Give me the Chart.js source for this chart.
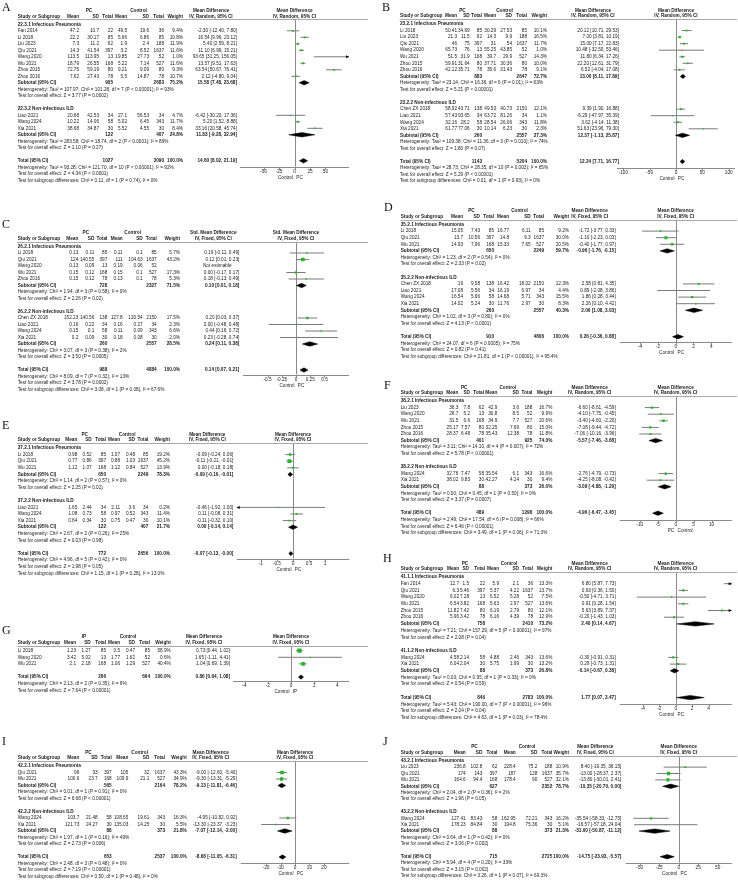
<!DOCTYPE html>
<html><head><meta charset="utf-8">
<script src="https://cdn.jsdelivr.net/npm/chart.js@4.4.1/dist/chart.umd.min.js"></script>
<style>
html,body{margin:0;padding:0;background:#fff;}
#wrap{position:relative;width:738px;height:880px;overflow:hidden;background:#fff;}
#wrap canvas{position:absolute;left:0;top:0;}
</style></head><body><div id="wrap"></div>
<script>
// ===== Panel A =====
const A_study = ["Fan 2014","Li 2018","Liu 2023","Qiu 2021","Wang 2020","Wu 2021","Zhou 2015","Zhou 2016","Liao 2021","Wang 2024","Xia 2021"];
const A_group = [0,0,0,0,0,0,0,0,1,1,1];
const A_pc = [[47.2,10.7,22],[22.2,30.17,85],[7.3,11.2,62],[14.3,41.54,397],[113.5,113.95,13],[18.79,26.55,168],[72.75,59.19,80],[7.62,27.43,78],[20.68,42.53,34],[10.22,14.06,58],[38.68,34.87,30]];
const A_ctl = [[49.5,19.6,36],[5.66,6.86,85],[1.9,2.4,188],[3.2,8.52,1637],[19.85,27.73,52],[5.22,7.14,527],[9.21,9.09,80],[5.5,14.87,78],[27.1,56.53,34],[5.02,6.45,343],[5.52,4.55,30]];
const A_weight = [9.4,10.8,11.9,11.6,1.0,11.6,9.3,10.7,4.7,11.7,8.4];
const A_ci = [[-2.30,-12.40,7.80],[16.54,9.96,23.12],[5.40,2.59,8.21],[11.10,6.99,15.21],[93.65,31.25,156.05],[13.57,9.51,17.63],[63.54,50.67,76.41],[2.12,-4.80,9.04],[-6.42,-30.20,17.36],[5.20,1.52,8.88],[33.16,20.58,45.74]];
const A_subName = ["22.3.1 Infectious Pneumonia","22.3.2 Non-infectious ILD"];
const A_sub = [[905,2683,75.2,15.58,7.48,23.68],[122,407,24.8,11.83,-9.28,32.94]];
const A_subText = [["Heterogeneity: Tau² = 107.97; Chi² = 101.28, df = 7 (P < 0.00001); I² = 93%","Test for overall effect: Z = 3.77 (P = 0.0002)"],["Heterogeneity: Tau² = 283.58; Chi² = 18.74, df = 2 (P < 0.0001); I² = 89%","Test for overall effect: Z = 1.10 (P = 0.27)"]];
const A_total = [1027,3090,100.0,14.60,8.02,21.19];
const A_totalText = ["Heterogeneity: Tau² = 93.28; Chi² = 121.70, df = 10 (P < 0.00001); I² = 92%","Test for overall effect: Z = 4.34 (P < 0.0001)","Test for subgroup differences: Chi² = 0.11, df = 1 (P = 0.74), I² = 0%"];
const A_ticks = [-50,-25,0,25,50];

// ===== Panel B =====
const B_study = ["Li 2018","Liu 2023","Qiu 2021","Wang 2020","Wu 2021","Zhou 2015","Zhou 2016","Chen ZX 2018","Liao 2021","Wang 2024","Xia 2021"];
const B_group = [0,0,0,0,0,0,0,1,1,1,1];
const B_pc = [[50.41,34.69,85],[21.3,11.5,62],[46,75,397],[65.73,76,13],[51.5,31.9,168],[59.91,31.64,80],[42.12,35.71,78],[58.92,43.71,138],[57.43,93.65,34],[32.16,28.2,58],[61.77,77.06,30]];
const B_ctl = [[30.29,27.53,85],[14.3,9.9,188],[31,54,1637],[55.25,43.85,52],[39.7,29.9,527],[37.71,30.36,80],[35.6,31.43,78],[49.53,40.73,2150],[63.72,81.26,34],[28.54,26.06,343],[10.14,6.23,30]];
const B_weight = [10.1,16.5,11.7,1.0,14.3,10.0,9.1,12.1,1.1,11.8,2.3];
const B_ci = [[20.12,10.71,29.53],[7.00,3.81,10.19],[15.00,7.17,22.83],[10.48,-32.50,53.46],[11.80,6.34,17.26],[22.20,12.61,31.79],[6.52,-4.04,17.08],[9.39,1.90,16.88],[-6.29,-47.97,35.39],[3.62,-4.14,11.38],[51.63,23.96,79.30]];
const B_subName = ["23.2.1 Infectious Pneumonia","23.2.2 Non-infectious ILD"];
const B_sub = [[883,2647,72.7,13.00,8.11,17.89],[260,2557,27.3,12.37,-1.13,25.87]];
const B_subText = [["Heterogeneity: Tau² = 23.14; Chi² = 16.36, df = 6 (P = 0.01); I² = 63%","Test for overall effect: Z = 5.21 (P < 0.00001)"],["Heterogeneity: Tau² = 109.38; Chi² = 11.36, df = 3 (P = 0.010); I² = 74%","Test for overall effect: Z = 1.80 (P = 0.07)"]];
const B_total = [1143,5204,100.0,12.24,7.71,16.77];
const B_totalText = ["Heterogeneity: Tau² = 28.73; Chi² = 28.35, df = 10 (P = 0.002); I² = 65%","Test for overall effect: Z = 5.29 (P < 0.00001)","Test for subgroup differences: Chi² = 0.01, df = 1 (P = 0.93), I² = 0%"];
const B_ticks = [-100,-50,0,50,100];

// ===== Panel C =====
const C_study = ["Li 2018","Qiu 2021","Wang 2020","Wu 2021","Zhou 2016","Chen ZX 2018","Liao 2021","Wang 2024","Xia 2021"];
const C_group = [0,0,0,0,0,1,1,1,1];
const C_pc = [[0.13,0.11,85],[124,140.55,397],[0.13,0.09,13],[0.15,0.12,168],[0.15,0.12,78],[152.23,140.56,138],[0.16,0.22,34],[0.15,0.1,58],[0.2,0.09,30]];
const C_ctl = [[0.11,0.1,85],[111,104.63,1637],[0.19,0.06,52],[0.15,0.1,527],[0.13,0.1,78],[127.8,120.54,2150],[0.16,0.27,34],[0.11,0.09,343],[0.18,0.08,30]];
const C_weight = [5.7,43.2,null,17.3,5.3,17.5,2.3,6.6,2.0];
const C_ci = [[0.19,-0.11,0.49],[0.12,0.01,0.23],null,[0.00,-0.17,0.17],[0.18,-0.13,0.49],[0.20,0.03,0.37],[0.00,-0.48,0.48],[0.44,0.16,0.72],[0.23,-0.28,0.74]];
const C_subName = ["26.2.1 Infectious Pneumonia","26.2.2 Non-infectious ILD"];
const C_sub = [[728,2327,71.5,0.10,0.01,0.18],[260,2557,28.5,0.24,0.11,0.38]];
const C_subText = [["Heterogeneity: Chi² = 1.94, df = 3 (P = 0.58); I² = 0%","Test for overall effect: Z = 2.26 (P = 0.02)"],["Heterogeneity: Chi² = 3.07, df = 3 (P = 0.38); I² = 2%","Test for overall effect: Z = 3.50 (P = 0.0005)"]];
const C_total = [988,4884,100.0,0.14,0.07,0.21];
const C_totalText = ["Heterogeneity: Chi² = 8.09, df = 7 (P = 0.32); I² = 13%","Test for overall effect: Z = 3.78 (P = 0.0002)","Test for subgroup differences: Chi² = 3.08, df = 1 (P = 0.08), I² = 67.6%"];
const C_ticks = [-0.5,-0.25,0,0.25,0.5];

// ===== Panel D =====
const D_study = ["Li 2018","Qiu 2021","Wu 2021","Chen ZX 2018","Liao 2021","Wang 2024","Xia 2021"];
const D_group = [0,0,0,1,1,1,1];
const D_pc = [[15.05,7.43,85],[13.7,10.56,397],[14.93,7.96,168],[19,9.58,138],[17.08,5.56,34],[16.54,5.66,58],[14.02,5.24,30]];
const D_ctl = [[16.77,6.11,85],[14.8,9.3,1637],[15.33,7.65,527],[16.42,18.02,2150],[16.19,6.97,34],[14.68,5.71,343],[11.76,2.97,30]];
const D_weight = [9.2,30.0,20.5,12.3,4.4,15.5,8.3];
const D_ci = [[-1.72,-3.77,0.33],[-1.10,-2.23,0.03],[-0.40,-1.77,0.97],[2.58,0.81,4.35],[0.89,-2.08,3.86],[1.86,0.28,3.44],[2.26,0.10,4.42]];
const D_subName = ["35.2.1 Infectious Pneumonia","35.2.2 Non-infectious ILD"];
const D_sub = [[650,2249,59.7,-0.96,-1.76,-0.15],[260,2557,40.3,2.06,1.08,3.03]];
const D_subText = [["Heterogeneity: Chi² = 1.23, df = 2 (P = 0.54); I² = 0%","Test for overall effect: Z = 2.33 (P = 0.02)"],["Heterogeneity: Chi² = 1.02, df = 3 (P = 0.80); I² = 0%","Test for overall effect: Z = 4.13 (P < 0.0001)"]];
const D_total = [910,4806,100.0,0.26,-0.36,0.88];
const D_totalText = ["Heterogeneity: Chi² = 24.07, df = 6 (P = 0.0005); I² = 75%","Test for overall effect: Z = 0.82 (P = 0.41)","Test for subgroup differences: Chi² = 21.81, df = 1 (P < 0.00001), I² = 95.4%"];
const D_ticks = [-4,-2,0,2,4];

// ===== Panel E =====
const E_study = ["Li 2018","Qiu 2021","Wu 2021","Liao 2021","Wang 2024","Xia 2021"];
const E_group = [0,0,0,1,1,1];
const E_pc = [[0.98,0.52,85],[0.77,0.86,397],[1.12,1.07,168],[1.65,2.44,34],[1.08,0.73,58],[0.64,0.34,30]];
const E_ctl = [[1.07,0.48,85],[0.88,1.03,1637],[1.12,0.84,527],[2.11,3.6,34],[0.97,0.52,343],[0.75,0.47,30]];
const E_weight = [19.2,45.2,13.9,0.2,11.4,10.1];
const E_ci = [[-0.09,-0.24,0.06],[-0.11,-0.21,-0.01],[0.00,-0.18,0.18],[-0.46,-1.92,1.00],[0.11,-0.08,0.31],[-0.11,-0.32,0.10]];
const E_subName = ["37.2.1 Infectious Pneumonia","37.2.2 Non-infectious ILD"];
const E_sub = [[650,2249,78.3,-0.09,-0.16,-0.01],[122,407,21.7,0.00,-0.14,0.14]];
const E_subText = [["Heterogeneity: Chi² = 1.14, df = 2 (P = 0.57); I² = 0%","Test for overall effect: Z = 2.25 (P = 0.02)"],["Heterogeneity: Chi² = 2.67, df = 2 (P = 0.26); I² = 25%","Test for overall effect: Z = 0.03 (P = 0.98)"]];
const E_total = [772,2656,100.0,-0.07,-0.13,-0];
const E_totalText = ["Heterogeneity: Chi² = 4.96, df = 5 (P = 0.42); I² = 0%","Test for overall effect: Z = 1.98 (P = 0.05)","Test for subgroup differences: Chi² = 1.15, df = 1 (P = 0.28), I² = 13.0%"];
const E_ticks = [-1,-0.5,0,0.5,1];

// ===== Panel F =====
const F_study = ["Liu 2023","Wang 2020","Wu 2021","Zhou 2015","Zhou 2016","Wang 2024","Xia 2021"];
const F_group = [0,0,0,0,0,1,1];
const F_pc = [[36.3,7.8,62],[26.7,5.2,13],[31.5,6.6,168],[25.17,7.57,80],[28.37,6.48,78],[32.76,7.47,58],[38.02,9.83,30]];
const F_ctl = [[42.9,3.6,188],[30.8,8.5,52],[34.9,7.7,527],[32.25,7.69,80],[35.43,12.38,78],[35.54,6.1,343],[42.27,4.24,30]];
const F_weight = [16.7,9.9,20.6,15.0,11.8,16.6,9.4];
const F_ci = [[-6.60,-8.61,-4.59],[-4.10,-7.75,-0.45],[-3.40,-4.60,-2.20],[-7.08,-9.44,-4.72],[-7.06,-10.16,-3.96],[-2.76,-4.79,-0.73],[-4.25,-8.08,-0.42]];
const F_subName = ["38.2.1 Infectious Pneumonia","38.2.2 Non-infectious ILD"];
const F_sub = [[401,925,74.0,-5.57,-7.46,-3.68],[88,373,26.0,-3.09,-4.88,-1.29]];
const F_subText = [["Heterogeneity: Tau² = 3.11; Chi² = 14.10, df = 4 (P = 0.007); I² = 72%","Test for overall effect: Z = 5.78 (P < 0.00001)"],["Heterogeneity: Tau² = 0.00; Chi² = 0.45, df = 1 (P = 0.50); I² = 0%","Test for overall effect: Z = 3.37 (P = 0.0007)"]];
const F_total = [489,1298,100.0,-4.96,-6.47,-3.45];
const F_totalText = ["Heterogeneity: Tau² = 2.49; Chi² = 17.54, df = 6 (P = 0.008); I² = 66%","Test for overall effect: Z = 6.46 (P < 0.00001)","Test for subgroup differences: Chi² = 3.49, df = 1 (P = 0.06), I² = 71.3%"];
const F_ticks = [-10,-5,0,5,10];

// ===== Panel G =====
const G_study = ["Li 2018","Wang 2020","Wu 2021"];
const G_pc = [[1.23,1.27,85],[3.42,5.02,13],[2.1,2.18,168]];
const G_ctl = [[0.5,0.47,85],[1.77,1.62,52],[1.06,1.29,527]];
const G_weight = [58.9,0.6,40.4];
const G_ci = [[0.73,0.44,1.02],[1.65,-1.11,4.41],[1.04,0.69,1.39]];
const G_total = [266,664,100.0,0.86,0.64,1.08];
const G_totalText = ["Heterogeneity: Chi² = 2.13, df = 2 (P = 0.35); I² = 6%","Test for overall effect: Z = 7.64 (P < 0.00001)"];
const G_ticks = [-4,-2,0,2,4];

// ===== Panel H =====
const H_study = ["Fan 2014","Qiu 2021","Wang 2020","Wu 2021","Zhou 2015","Zhou 2016","Wang 2024","Xia 2021"];
const H_group = [0,0,0,0,0,0,1,1];
const H_pc = [[12.7,1.5,22],[6.3,5.46,397],[6.02,7.28,13],[6.54,3.82,168],[11.82,7.42,80],[5.96,3.42,78],[4.58,2.14,58],[6.04,2.04,30]];
const H_ctl = [[5.9,2.1,36],[5.37,4.22,1637],[6.52,5.28,52],[5.63,2.97,527],[6.19,2.79,80],[6.16,4.39,78],[4.88,2.46,343],[5.75,1.99,30]];
const H_weight = [13.3,13.7,7.5,13.6,12.1,12.9,13.6,13.2];
const H_ci = [[6.80,5.87,7.73],[0.93,0.36,1.50],[-0.50,-4.71,3.71],[0.91,0.28,1.54],[5.63,3.89,7.37],[-0.20,-1.43,1.03],[-0.30,-0.91,0.31],[0.29,-0.73,1.31]];
const H_subName = ["41.1.1 Infectious Pneumonia","41.1.2 Non-infectious ILD"];
const H_sub = [[758,2410,73.2,2.40,0.14,4.67],[88,373,26.8,-0.14,-0.67,0.38]];
const H_subText = [["Heterogeneity: Tau² = 7.21; Chi² = 157.29, df = 5 (P < 0.00001); I² = 97%","Test for overall effect: Z = 2.08 (P = 0.04)"],["Heterogeneity: Tau² = 0.03; Chi² = 0.95, df = 1 (P = 0.33); I² = 0%","Test for overall effect: Z = 0.54 (P = 0.59)"]];
const H_total = [846,2783,100.0,1.77,0.07,3.47];
const H_totalText = ["Heterogeneity: Tau² = 5.43; Chi² = 190.00, df = 7 (P < 0.00001); I² = 96%","Test for overall effect: Z = 2.04 (P = 0.04)","Test for subgroup differences: Chi² = 4.63, df = 1 (P = 0.03), I² = 78.4%"];
const H_ticks = [-4,-2,0,2,4];

// ===== Panel I =====
const I_study = ["Qiu 2021","Wu 2021","Wang 2024","Xia 2021"];
const I_group = [0,0,1,1];
const I_pc = [[96,33,397],[100.6,23.7,168],[103.7,21.48,58],[121.73,24.27,30]];
const I_ctl = [[105,32,1637],[109.9,21.1,527],[108.65,19.61,343],[135.03,14.25,30]];
const I_weight = [43.3,34.9,16.3,5.5];
const I_ci = [[-9.00,-12.60,-5.40],[-9.30,-13.31,-5.29],[-4.95,-10.82,0.92],[-13.30,-23.37,-3.23]];
const I_subName = ["42.2.1 Infectious Pneumonia","42.2.2 Non-infectious ILD"];
const I_sub = [[565,2164,78.2,-9.13,-11.81,-6.46],[88,373,21.8,-7.07,-12.14,-2.00]];
const I_subText = [["Heterogeneity: Chi² = 0.01, df = 1 (P = 0.91); I² = 0%","Test for overall effect: Z = 6.68 (P < 0.00001)"],["Heterogeneity: Chi² = 1.97, df = 1 (P = 0.16); I² = 49%","Test for overall effect: Z = 2.73 (P = 0.006)"]];
const I_total = [653,2537,100.0,-8.68,-11.05,-6.31];
const I_totalText = ["Heterogeneity: Chi² = 2.48, df = 3 (P = 0.48); I² = 0%","Test for overall effect: Z = 7.19 (P < 0.00001)","Test for subgroup differences: Chi² = 0.50, df = 1 (P = 0.48), I² = 0%"];
const I_ticks = [-20,-10,0,10,20];

// ===== Panel J =====
const J_study = ["Liu 2023","Qiu 2021","Wu 2021","Wang 2024","Xia 2021"];
const J_group = [0,0,0,1,1];
const J_pc = [[236.8,102.8,62],[174,143,397],[164.6,94.4,168],[127.41,83.43,58],[178.23,84.84,30]];
const J_ctl = [[228.4,75.2,188],[187,128,1637],[178.4,90,527],[162.95,72.21,343],[194.8,75.36,30]];
const J_weight = [10.9,35.7,32.1,16.2,5.1];
const J_ci = [[8.40,-19.35,36.15],[-13.00,-28.37,2.37],[-13.80,-30.01,2.41],[-35.54,-58.33,-12.75],[-16.57,-57.18,24.04]];
const J_subName = ["43.2.1 Infectious Pneumonia","43.2.2 Non-infectious ILD"];
const J_sub = [[627,2352,78.7,-10.35,-20.70,0.00],[88,373,21.3,-31.00,-50.87,-11.12]];
const J_subText = [["Heterogeneity: Chi² = 2.04, df = 2 (P = 0.36); I² = 2%","Test for overall effect: Z = 1.96 (P = 0.05)"],["Heterogeneity: Chi² = 0.64, df = 1 (P = 0.42); I² = 0%","Test for overall effect: Z = 3.06 (P = 0.002)"]];
const J_total = [715,2725,100.0,-14.75,-23.93,-5.57];
const J_totalText = ["Heterogeneity: Chi² = 5.94, df = 4 (P = 0.20); I² = 33%","Test for overall effect: Z = 3.15 (P = 0.002)","Test for subgroup differences: Chi² = 3.26, df = 1 (P = 0.07), I² = 69.3%"];
const J_ticks = [-50,-25,0,25,50];

// ===== Panel assembly (data references + layout) =====
const RND = "IV, Random, 95% CI", FIX = "IV, Fixed, 95% CI";
const PANELS = [
 {id:"A", study:A_study, group:A_group, pc:A_pc, ctl:A_ctl, weight:A_weight, ci:A_ci, subName:A_subName, sub:A_sub, subText:A_subText, total:A_total, totalText:A_totalText, ticks:A_ticks,
  exp:"PC", effect:"Mean Difference", method:RND, favL:"Control", favR:"PC",
  ox:0, letterX:2, letterY:8, r0:24.3, s:6.5, gap:5.8, nameX:17.7, cols:[79,99,113,127,149,164,183], ciX:237, plotL:240, plotR:349, R:88},
 {id:"B", study:B_study, group:B_group, pc:B_pc, ctl:B_ctl, weight:B_weight, ci:B_ci, subName:B_subName, sub:B_sub, subText:B_subText, total:B_total, totalText:B_totalText, ticks:B_ticks,
  exp:"PC", effect:"Mean Difference", method:RND, favL:"Control", favR:"PC",
  ox:369, letterX:13, letterY:8, r0:24, s:6.55, gap:6.5, nameX:31, cols:[88,100.7,113,127,143,158,178], ciX:250, plotL:248, plotR:366, R:112},
 {id:"C", study:C_study, group:C_group, pc:C_pc, ctl:C_ctl, weight:C_weight, ci:C_ci, subName:C_subName, sub:C_sub, subText:C_subText, total:C_total, totalText:C_totalText, ticks:C_ticks,
  exp:"PC", effect:"Std. Mean Difference", method:FIX, favL:"Control", favR:"PC",
  ox:0, letterX:2, letterY:225, r0:246.5, s:6.5, gap:4.5, nameX:17.7, cols:[78.3,94.3,107.3,122.7,142.7,156.7,180], ciX:239.3, plotL:243, plotR:349, R:0.93},
 {id:"D", study:D_study, group:D_group, pc:D_pc, ctl:D_ctl, weight:D_weight, ci:D_ci, subName:D_subName, sub:D_sub, subText:D_subText, total:D_total, totalText:D_totalText, ticks:D_ticks,
  exp:"PC", effect:"Mean Difference", method:FIX, favL:"Control", favR:"PC",
  ox:369, letterX:15, letterY:207.5, r0:224.5, s:6.6, gap:5.5, nameX:31.7, cols:[94,111,125,140,161.7,175,200], ciX:246.7, plotL:250.7, plotR:362.7, R:6.3},
 {id:"E", study:E_study, group:E_group, pc:E_pc, ctl:E_ctl, weight:E_weight, ci:E_ci, subName:E_subName, sub:E_sub, subText:E_subText, total:E_total, totalText:E_totalText, ticks:E_ticks,
  exp:"PC", effect:"Mean Difference", method:FIX, favL:"Control", favR:"PC",
  ox:0, letterX:2, letterY:426, r0:448, s:6.6, gap:5, nameX:17.7, cols:[77.3,91.7,106,120,135,148.3,170], ciX:233.3, plotL:236.7, plotR:349.3, R:1.75},
 {id:"F", study:F_study, group:F_group, pc:F_pc, ctl:F_ctl, weight:F_weight, ci:F_ci, subName:F_subName, sub:F_sub, subText:F_subText, total:F_total, totalText:F_totalText, ticks:F_ticks,
  exp:"PC", effect:"Mean Difference", method:RND, favL:"PC", favR:"Control",
  ox:369, letterX:15, letterY:386, r0:401, s:6.6, gap:7, nameX:31.7, cols:[89.3,101,115,128.3,150,163.3,183.3], ciX:246.7, plotL:250.7, plotR:362.7, R:15.6},
 {id:"G", study:G_study, group:null, pc:G_pc, ctl:G_ctl, weight:G_weight, ci:G_ci, subName:null, sub:null, subText:null, total:G_total, totalText:G_totalText, ticks:G_ticks,
  exp:"IP", effect:"Mean Difference", method:FIX, favL:"Control", favR:"IP",
  ox:0, letterX:2, letterY:631, r0:650.7, s:6.6, gap:4, nameX:17.7, cols:[76,90.7,106,120,135,150,170.7], ciX:230, plotL:233, plotR:349, R:5.0},
 {id:"H", study:H_study, group:H_group, pc:H_pc, ctl:H_ctl, weight:H_weight, ci:H_ci, subName:H_subName, sub:H_sub, subText:H_subText, total:H_total, totalText:H_totalText, ticks:H_ticks,
  exp:"PC", effect:"Mean Difference", method:RND, favL:"Control", favR:"PC",
  ox:369, letterX:14, letterY:559, r0:577, s:6.7, gap:6, nameX:31.7, cols:[90,100,116,130,150,164,183.3], ciX:246.7, plotL:250.7, plotR:362.7, R:6.8},
 {id:"I", study:I_study, group:I_group, pc:I_pc, ctl:I_ctl, weight:I_weight, ci:I_ci, subName:I_subName, sub:I_sub, subText:I_subText, total:I_total, totalText:I_totalText, ticks:I_ticks,
  exp:"PC", effect:"Mean Difference", method:FIX, favL:"Control", favR:"PC",
  ox:0, letterX:2, letterY:742, r0:766, s:6.5, gap:6, nameX:17.7, cols:[79.3,97.7,111.7,128.3,149.3,165,186.7], ciX:236.7, plotL:240.7, plotR:349.3, R:37.5},
 {id:"J", study:J_study, group:J_group, pc:J_pc, ctl:J_ctl, weight:J_weight, ci:J_ci, subName:J_subName, sub:J_sub, subText:J_subText, total:J_total, totalText:J_totalText, ticks:J_ticks,
  exp:"PC", effect:"Mean Difference", method:FIX, favL:"Control", favR:"PC",
  ox:369, letterX:14, letterY:742, r0:760.7, s:6.4, gap:6, nameX:31.7, cols:[96.7,113.3,128.3,146.7,168.3,183.3,200], ciX:252.3, plotL:256.7, plotR:362.7, R:68}
];

const FONT = 4.7;
const TXT = "#222";
function font(b){ return (b ? "bold " : "") + FONT + 'px "Liberation Sans", Arial, sans-serif'; }
function f2(v){ return (Object.is(v,-0) ? "-" : "") + v.toFixed(2); }
function ciStr(m,l,h){ return f2(m) + " [" + f2(l) + ", " + f2(h) + "]"; }

function buildRows(P){
  const rows = [], studyRow = [], subRow = [];
  let r = 0;
  if (P.subName){
    P.subName.forEach((nm,g)=>{
      rows.push({r:r++, type:"heading", text:nm});
      P.study.forEach((n,i)=>{ if (P.group[i]===g){ rows.push({r, type:"study", i}); studyRow[i]=r; r++; } });
      rows.push({r, type:"sub", g}); subRow[g]=r; r++;
      rows.push({r:r++, type:"text", text:P.subText[g][0]});
      rows.push({r:r++, type:"text", text:P.subText[g][1]});
      r++;
    });
  } else {
    P.study.forEach((n,i)=>{ rows.push({r, type:"study", i}); studyRow[i]=r; r++; });
    r++;
  }
  const totalRow = r;
  rows.push({r:r++, type:"total"});
  P.totalText.forEach(t=>rows.push({r:r++, type:"text", text:t}));
  return {rows, studyRow, subRow, totalRow};
}

function forestPlugin(P, L, top){
  return {
    id: "forest" + P.id,
    beforeDatasetsDraw(chart){
      const ctx = chart.ctx, xs = chart.scales.x, ca = chart.chartArea;
      ctx.save();
      ctx.lineWidth = 1;
      ctx.strokeStyle = "#a8a8a8";
      const hy = Math.round(top) + 0.5;
      ctx.beginPath(); ctx.moveTo(P.ox + P.nameX - 0.5, hy); ctx.lineTo(P.ox + 368, hy); ctx.stroke();
      ctx.strokeStyle = "#8a8a8a";
      const zx = Math.round(xs.getPixelForValue(0)) + 0.5;
      ctx.beginPath(); ctx.moveTo(zx, hy); ctx.lineTo(zx, ca.bottom); ctx.stroke();
      const ay = Math.round(ca.bottom) + 0.5;
      ctx.beginPath(); ctx.moveTo(ca.left, ay); ctx.lineTo(ca.right, ay); ctx.stroke();
      P.ticks.forEach(t=>{
        const tx = Math.round(xs.getPixelForValue(t)) + 0.5;
        ctx.beginPath(); ctx.moveTo(tx, ay); ctx.lineTo(tx, ay + 2); ctx.stroke();
      });
      ctx.restore();
    },
    afterDraw(chart){
      const ctx = chart.ctx, xs = chart.scales.x, ys = chart.scales.y, ca = chart.chartArea;
      const ox = P.ox, c = P.cols.map(v=>v+ox), nx = ox + P.nameX, cix = ox + P.ciX, ciC = cix - 26;
      const pc = (ca.left + ca.right) / 2;
      ctx.save();
      ctx.fillStyle = TXT;
      ctx.textBaseline = "middle";
      function T(s, x, y, align, bold){ ctx.font = font(bold); ctx.textAlign = align; ctx.fillText(s, x, y); }
      ctx.font = '12px "Liberation Serif", "Times New Roman", serif';
      ctx.textAlign = "left"; ctx.fillStyle = "#111";
      ctx.fillText(P.id, ox + P.letterX, P.letterY);
      ctx.fillStyle = TXT;
      const h1 = P.r0 - 13.5, h2 = P.r0 - 8;
      T(P.exp, (c[0] - 14 + c[2]) / 2, h1, "center", true);
      T("Control", (c[3] - 14 + c[5]) / 2, h1, "center", true);
      T(P.effect, ciC, h1, "center", true);
      T(P.effect, pc, h1, "center", true);
      T("Study or Subgroup", nx, h2, "left", true);
      ["Mean","SD","Total","Mean","SD","Total","Weight"].forEach((s,k)=>T(s, c[k], h2, "right", true));
      T(P.method, ciC, h2, "center", true);
      T(P.method, pc, h2, "center", true);
      L.rows.forEach(row=>{
        const y = ys.getPixelForValue(row.r);
        if (row.type === "heading") T(row.text, nx, y, "left", true);
        else if (row.type === "text") T(row.text, nx, y, "left", false);
        else if (row.type === "study"){
          const i = row.i;
          T(P.study[i], nx, y, "left", false);
          P.pc[i].forEach((v,k)=>T(String(v), c[k], y, "right", false));
          P.ctl[i].forEach((v,k)=>T(String(v), c[3+k], y, "right", false));
          if (P.ci[i]){
            T(P.weight[i].toFixed(1) + "%", c[6], y, "right", false);
            T(ciStr(P.ci[i][0], P.ci[i][1], P.ci[i][2]), cix, y, "right", false);
          } else {
            T("Not estimable", ciC + 4, y, "center", false);
          }
        } else if (row.type === "sub"){
          const d = P.sub[row.g];
          T("Subtotal (95% CI)", nx, y, "left", true);
          T(String(d[0]), c[2], y, "right", true);
          T(String(d[1]), c[5], y, "right", true);
          T(d[2].toFixed(1) + "%", c[6], y, "right", true);
          T(ciStr(d[3], d[4], d[5]), cix, y, "right", true);
        } else if (row.type === "total"){
          const d = P.total;
          T("Total (95% CI)", nx, y, "left", true);
          T(String(d[0]), c[2], y, "right", true);
          T(String(d[1]), c[5], y, "right", true);
          T(d[2].toFixed(1) + "%", c[6], y, "right", true);
          T(ciStr(d[3], d[4], d[5]), cix, y, "right", true);
        }
      });
      const ay = ca.bottom;
      P.ticks.forEach(t=>T(String(t), xs.getPixelForValue(t), ay + 4.8, "center", false));
      const zx = xs.getPixelForValue(0);
      T(P.favL, zx - 1.5, ay + 10.8, "right", false);
      T(P.favR, zx + 1.8, ay + 10.8, "left", false);
      ctx.fillStyle = "#000";
      P.ci.forEach((ci,i)=>{
        if (!ci) return;
        const y = ys.getPixelForValue(L.studyRow[i]);
        if (ci[2] > P.R){ ctx.beginPath(); ctx.moveTo(ca.right, y); ctx.lineTo(ca.right - 3, y - 1.5); ctx.lineTo(ca.right - 3, y + 1.5); ctx.closePath(); ctx.fill(); }
        if (ci[1] < -P.R){ ctx.beginPath(); ctx.moveTo(ca.left, y); ctx.lineTo(ca.left + 3, y - 1.5); ctx.lineTo(ca.left + 3, y + 1.5); ctx.closePath(); ctx.fill(); }
      });
      ctx.restore();
    }
  };
}

const wrap = document.getElementById("wrap");
PANELS.forEach(P=>{
  const cv = document.createElement("canvas");
  cv.width = 738; cv.height = 880;
  cv.style.width = "738px"; cv.style.height = "880px";
  wrap.appendChild(cv);
  const L = buildRows(P);
  const top = P.r0 - 5;
  const axisY = P.r0 + L.totalRow * P.s + P.gap;
  const plotL = P.ox + P.plotL, plotR = P.ox + P.plotR;
  const ciData = [], sqData = [], sqR = [];
  P.study.forEach((n,i)=>{
    const ci = P.ci[i]; if (!ci) return;
    const r = L.studyRow[i];
    ciData.push({x:ci[1], y:r}, {x:ci[2], y:r}, {x:null, y:null});
    sqData.push({x:ci[0], y:r});
    sqR.push(Math.max(1.2, 0.56 * Math.sqrt(P.weight[i])) / Math.SQRT2);
  });
  const dia = [];
  if (P.sub) P.sub.forEach((d,g)=>dia.push({m:d[3], l:d[4], h:d[5], r:L.subRow[g]}));
  dia.push({m:P.total[3], l:P.total[4], h:P.total[5], r:L.totalRow});
  const hh = 2.2 / P.s;
  const datasets = [
    {type:"line", data:ciData, borderColor:"#7a7a7a", borderWidth:1, pointRadius:0, pointHoverRadius:0, spanGaps:false, fill:false, order:3}
  ];
  dia.forEach(d=>datasets.push({type:"line",
    data:[{x:d.l,y:d.r},{x:d.m,y:d.r-hh},{x:d.h,y:d.r},{x:d.m,y:d.r+hh},{x:d.l,y:d.r}],
    borderColor:"#000", backgroundColor:"#000", borderWidth:0.5, pointRadius:0, pointHoverRadius:0, fill:"shape", tension:0, order:2}));
  datasets.push({type:"line", data:sqData, showLine:false, pointStyle:"rect", pointRadius:sqR, pointHoverRadius:sqR,
    pointBackgroundColor:"#22b822", pointBorderWidth:0, pointBorderColor:"#22b822", order:1});
  new Chart(cv, {
    type:"line",
    data:{datasets},
    options:{
      responsive:false, animation:false, devicePixelRatio:1, events:[],
      layout:{padding:{left:plotL, right:738 - plotR, top:top, bottom:880 - axisY}},
      scales:{
        x:{type:"linear", min:-P.R, max:P.R, display:false},
        y:{type:"linear", reverse:true, min:(top - P.r0)/P.s, max:(axisY - P.r0)/P.s, display:false}
      },
      plugins:{legend:{display:false}, tooltip:{enabled:false}, title:{display:false}}
    },
    plugins:[forestPlugin(P, L, top)]
  });
});
</script>
</body></html>
